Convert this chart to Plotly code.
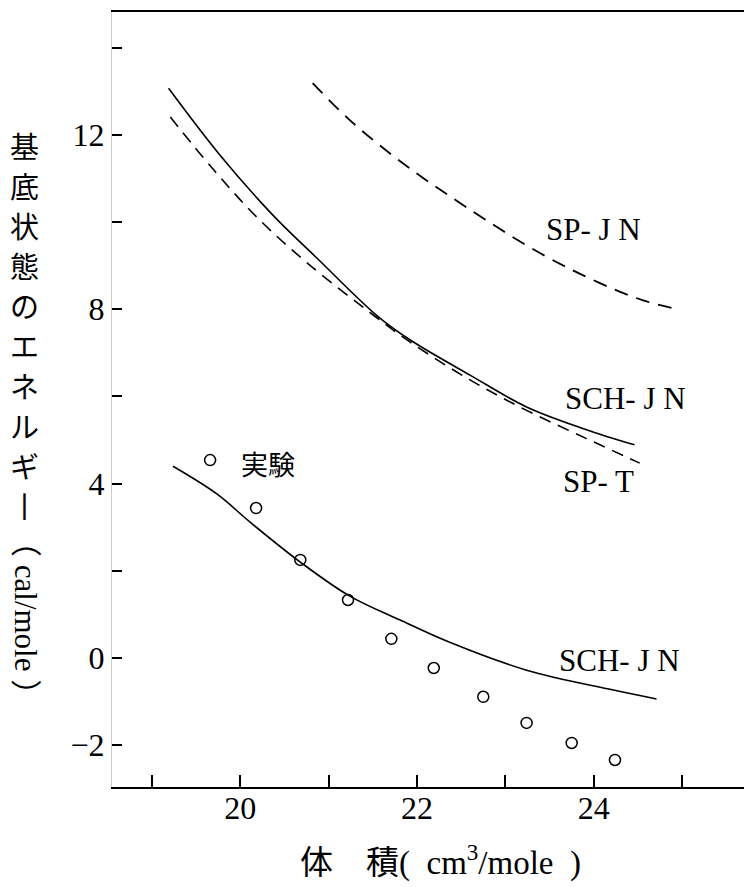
import plotly.graph_objects as go

# ---- data ----
exp_x = [19.66, 20.18, 20.68, 21.22, 21.71, 22.19, 22.75, 23.24, 23.75, 24.24]
exp_y = [4.54, 3.44, 2.25, 1.33, 0.44, -0.23, -0.89, -1.49, -1.95, -2.34]

sch_low_x = [19.24, 19.74, 20.11, 20.68, 21.24, 21.81, 22.37, 23.24, 24.21, 24.71]
sch_low_y = [4.40, 3.76, 3.12, 2.20, 1.42, 0.87, 0.36, -0.28, -0.73, -0.94]

sch_up_x = [19.19, 19.77, 20.37, 20.87, 21.55, 21.92, 22.60, 23.24, 23.90, 24.46]
sch_up_y = [13.07, 11.54, 10.16, 9.17, 7.85, 7.30, 6.49, 5.76, 5.25, 4.89]

spt_x = [19.21, 19.70, 20.19, 20.76, 21.55, 21.92, 22.60, 23.24, 23.90, 24.52]
spt_y = [12.41, 11.20, 10.11, 9.06, 7.80, 7.25, 6.38, 5.68, 5.05, 4.47]

spjn_x = [20.82, 21.24, 21.84, 22.56, 23.39, 24.07, 24.55, 24.95]
spjn_y = [13.19, 12.34, 11.35, 10.34, 9.29, 8.60, 8.21, 8.00]

x_ticks = [19, 20, 21, 22, 23, 24, 25]
x_ticktext = [" ", "20", " ", "22", " ", "24", " "]
y_ticks = [-2, 0, 2, 4, 6, 8, 10, 12, 14]
y_ticktext = ["\u22122", "0", " ", "4", " ", "8", " ", "12", " "]

labels = [
    ("実験", 20.32, 4.46),
    ("SP- J N", 24.00, 9.84),
    ("SCH- J N", 24.36, 5.96),
    ("SP- T", 24.05, 4.06),
    ("SCH- J N", 24.29, -0.05),
]

ytitle_chars = ["基", "底", "状", "態", "の", "エ", "ネ", "ル", "ギ", "丨"]

SERIF = "Liberation Serif, Noto Sans CJK JP"
CJK = "Noto Sans CJK JP"

OFF = 8  # default page body margin
L, R, T, B = 104, 0, 4, 100
W, H = 744, 879
PW, PH = W - L - R, H - T - B


def px_x(p):
    return (p - OFF - L) / PW


def px_y(p):
    return (OFF + T + PH - p) / PH


fig = go.Figure()
fig.add_trace(go.Scatter(x=spjn_x, y=spjn_y, mode="lines", line_shape="spline",
                         line=dict(color="black", width=1.8, dash="14px,9px")))
fig.add_trace(go.Scatter(x=spt_x, y=spt_y, mode="lines", line_shape="spline",
                         line=dict(color="black", width=1.6, dash="12px,8px")))
fig.add_trace(go.Scatter(x=sch_up_x, y=sch_up_y, mode="lines", line_shape="spline",
                         line=dict(color="black", width=1.6)))
fig.add_trace(go.Scatter(x=sch_low_x, y=sch_low_y, mode="lines", line_shape="spline",
                         line=dict(color="black", width=1.6)))
fig.add_trace(go.Scatter(x=exp_x, y=exp_y, mode="markers",
                         marker=dict(symbol="circle-open", size=11, color="black",
                                     line=dict(width=1.5, color="black"))))

for txt, lx, ly in labels:
    is_cjk = txt == "実験"
    fig.add_annotation(x=lx, y=ly, text=txt, showarrow=False,
                       font=dict(family=CJK if is_cjk else SERIF,
                                 size=27 if is_cjk else 31, color="black"),
                       xanchor="center", yanchor="middle")

# y-axis title (vertical writing, one glyph per line)
for i, ch in enumerate(ytitle_chars):
    fig.add_annotation(xref="paper", yref="paper", x=px_x(24), y=px_y(145 + 40 * i),
                       xanchor="center", yanchor="middle", showarrow=False,
                       text=ch, font=dict(family=CJK, size=29, color="black"))
fig.add_annotation(xref="paper", yref="paper", x=px_x(26), y=px_y(618),
                   xanchor="center", yanchor="middle", showarrow=False, textangle=90,
                   text="（ cal/mole ）",
                   font=dict(family=SERIF, size=31, color="black"))
# x-axis title
fig.add_annotation(xref="paper", yref="paper", x=px_x(440), y=px_y(860),
                   xanchor="center", yanchor="middle", showarrow=False,
                   text="体　積(&nbsp;&nbsp;cm<sup>3</sup>/mole&nbsp;&nbsp;)",
                   font=dict(family=SERIF, size=33, color="black"))

fig.update_layout(
    width=W, height=H,
    margin=dict(l=L, r=R, t=T, b=B),
    paper_bgcolor="white", plot_bgcolor="white",
    showlegend=False,
    xaxis=dict(range=[18.55, 25.79], tickvals=x_ticks, ticktext=x_ticktext,
               ticks="inside", ticklen=12, tickwidth=1.5, tickcolor="black",
               showgrid=False, zeroline=False, showline=True, linecolor="black",
               linewidth=1.5, mirror=True, automargin=False, ticklabelstandoff=-8,
               tickfont=dict(family=SERIF, size=32, color="black")),
    yaxis=dict(range=[-2.96, 14.82], tickvals=y_ticks, ticktext=y_ticktext,
               ticks="inside", ticklen=10, tickwidth=1.5, tickcolor="black",
               showgrid=False, zeroline=False, showline=True, linecolor="#cccccc",
               linewidth=1, automargin=False,
               tickfont=dict(family=SERIF, size=32, color="black")),
)

fig.write_html("out.html")
